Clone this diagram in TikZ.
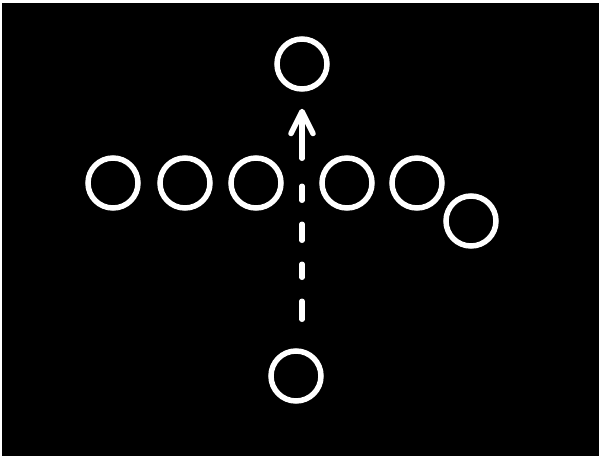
\documentclass[tikz,border=0pt]{standalone}
\usetikzlibrary{arrows.meta}
\tikzset{
  player/.style={circle, draw=white, line width=5.5pt, minimum size=50pt, inner sep=0pt},
  route/.style={white, line width=5.5pt, line cap=round,
    dash pattern=on 44pt off 28pt on 14pt off 24pt on 16pt off 24pt on 13pt off 24pt on 23pt off 40pt},
}
\begin{document}
\begin{tikzpicture}[x=1pt,y=-1pt]
  \useasboundingbox (0,0) rectangle (602,458);
  \fill[black] (2,2.5) rectangle (598.5,455.5);
  \node[player] (top) at (302,64) {};
  \node[player] (l1) at (113,183) {};
  \node[player] (l2) at (185,183) {};
  \node[player] (l3) at (256,183) {};
  \node[player] (l4) at (347,183) {};
  \node[player] (l5) at (417,183) {};
  \node[player] (l6) at (471,221) {};
  \node[player] (bot) at (296,376) {};
  \draw[route, {Straight Barb[round, length=22pt, width=22pt]}-, shorten <=17pt, shorten >=29pt]
    (top.south) -- (top.south |- bot.north);
\end{tikzpicture}
\end{document}
